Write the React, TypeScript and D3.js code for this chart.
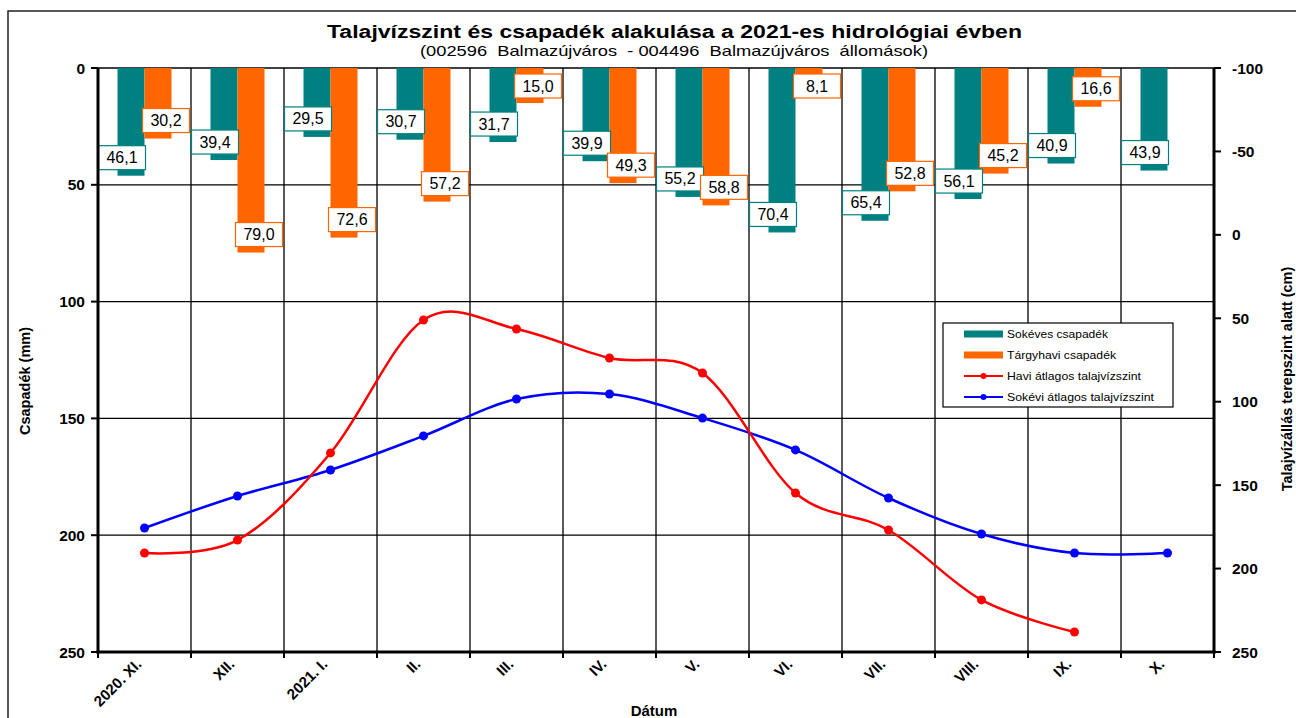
import React from "react";
import * as d3 from "d3";

const categories = ["2020. XI.", "XII.", "2021. I.", "II.", "III.", "IV.", "V.", "VI.", "VII.", "VIII.", "IX.", "X."];
const sokevesCsapadek = [46.1, 39.4, 29.5, 30.7, 31.7, 39.9, 55.2, 70.4, 65.4, 56.1, 40.9, 43.9];
const targyhaviCsapadek: (number | null)[] = [30.2, 79.0, 72.6, 57.2, 15.0, 49.3, 58.8, 8.1, 52.8, 45.2, 16.6, null];
const haviTalajviz: (number | null)[] = [190.7, 182.9, 130.7, 51, 56.4, 73.8, 82.8, 154.7, 176.9, 218.8, 238, null];
const sokeviTalajviz = [175.7, 156.5, 140.9, 120.5, 98.4, 95.4, 109.8, 128.9, 157.7, 179.3, 190.7, 190.7];
const leftTicks = [0, 50, 100, 150, 200, 250];
const rightTicks = [-100, -50, 0, 50, 100, 150, 200, 250];
const legendNames = ["Sokéves csapadék", "Tárgyhavi csapadék", "Havi átlagos talajvízszint", "Sokévi átlagos talajvízszint"];

const TEAL = "#008080";
const ORANGE = "#FF6600";
const RED = "#FF0000";
const BLUE = "#0000FF";
const FONT = "'Liberation Sans', Arial, sans-serif";

const fmt = (v: number) => v.toFixed(1).replace(".", ",");

export default function App() {
  const W = 1296, H = 718;
  const left = 98, right = 1214, top = 68, bottom = 652;
  const x = d3.scaleBand<string>().domain(categories).range([left, right]);
  const yL = d3.scaleLinear().domain([0, 250]).range([top, bottom]);
  const yR = d3.scaleLinear().domain([-100, 250]).range([top, bottom]);
  const cx = (i: number) => (x(categories[i]) as number) + x.bandwidth() / 2;
  const barW = 27;

  const lineGen = d3
    .line<[number, number]>()
    .x((d) => d[0])
    .y((d) => d[1])
    .curve(d3.curveCardinal.tension(0));

  const redPts: [number, number][] = haviTalajviz
    .map((v, i) => (v == null ? null : ([cx(i), yR(v)] as [number, number])))
    .filter((d): d is [number, number] => d != null);
  const bluePts: [number, number][] = sokeviTalajviz.map((v, i) => [cx(i), yR(v)]);

  const boundaries = d3.range(categories.length + 1).map((i) => left + i * x.bandwidth());

  const label = (v: number, bx: number, endY: number, color: string, key: string) => {
    const w = 47, h = 24;
    const cy = Math.max(endY - 18, top + 18);
    return (
      <g key={key}>
        <rect x={bx - w / 2} y={cy - h / 2} width={w} height={h} fill="#fff" stroke={color} strokeWidth={1.2} />
        <text x={bx} y={cy + 5.5} textAnchor="middle" fontSize={16} fontFamily={FONT} fill="#000">
          {fmt(v)}
        </text>
      </g>
    );
  };

  const legendColors = [TEAL, ORANGE, RED, BLUE];
  const legendTypes = ["bar", "bar", "line", "line"];
  const legendWidths = [101, 109, 134, 147];

  return (
    <svg width={W} height={H} style={{ position: "absolute", left: 0, top: 0 }} fontFamily={FONT}>
      <rect x={0} y={0} width={W} height={H} fill="#fff" />
      <rect x={8} y={11} width={W + 20} height={H + 20} fill="none" stroke="#222" strokeWidth={1.5} />

      <text x={327} y={38} fontSize={17.5} fontWeight="bold" fill="#000" textLength={695} lengthAdjust="spacingAndGlyphs">
        Talajvízszint és csapadék alakulása a 2021-es hidrológiai évben
      </text>
      <text x={420} y={56} fontSize={14.5} fill="#000" style={{ whiteSpace: "pre" }} textLength={508} lengthAdjust="spacingAndGlyphs">
        (002596  Balmazújváros  - 004496  Balmazújváros  állomások)
      </text>

      {/* grid */}
      {leftTicks.slice(1, -1).map((t) => (
        <line key={"h" + t} x1={left} x2={right} y1={yL(t)} y2={yL(t)} stroke="#000" strokeWidth={1.3} />
      ))}
      <line x1={left} x2={right} y1={top} y2={top} stroke="#000" strokeWidth={1.5} />
      {boundaries.slice(1, -1).map((b, i) => (
        <line key={"v" + i} x1={b} x2={b} y1={top} y2={bottom} stroke="#000" strokeWidth={1.3} />
      ))}

      {/* bars */}
      {sokevesCsapadek.map((v, i) => (
        <rect key={"t" + i} x={cx(i) - barW} y={yL(0)} width={barW} height={yL(v) - yL(0)} fill={TEAL} />
      ))}
      {targyhaviCsapadek.map((v, i) =>
        v == null ? null : (
          <rect key={"o" + i} x={cx(i)} y={yL(0)} width={barW} height={yL(v) - yL(0)} fill={ORANGE} />
        )
      )}

      {/* lines */}
      <path d={lineGen(bluePts) || ""} fill="none" stroke={BLUE} strokeWidth={2.5} />
      {bluePts.map((p, i) => (
        <circle key={"bp" + i} cx={p[0]} cy={p[1]} r={4.5} fill={BLUE} />
      ))}
      <path d={lineGen(redPts) || ""} fill="none" stroke={RED} strokeWidth={2.5} />
      {redPts.map((p, i) => (
        <circle key={"rp" + i} cx={p[0]} cy={p[1]} r={4.5} fill={RED} />
      ))}

      {/* data labels */}
      {sokevesCsapadek.map((v, i) => label(v, cx(i) - barW / 2 - 9, yL(v), TEAL, "lt" + i))}
      {targyhaviCsapadek.map((v, i) =>
        v == null ? null : label(v, cx(i) + barW / 2 + 8, yL(v), ORANGE, "lo" + i)
      )}

      {/* axes */}
      <line x1={left} x2={left} y1={top} y2={bottom + 1.5} stroke="#000" strokeWidth={3} />
      <line x1={right} x2={right} y1={top} y2={bottom + 1.5} stroke="#000" strokeWidth={3} />
      <line x1={left - 1.5} x2={right + 1.5} y1={bottom} y2={bottom} stroke="#000" strokeWidth={3} />
      {leftTicks.map((t) => (
        <g key={"lt" + t}>
          <line x1={left - 7} x2={left} y1={yL(t)} y2={yL(t)} stroke="#000" strokeWidth={2} />
          <text x={85} y={yL(t) + 5.5} textAnchor="end" fontSize={15.5} fontWeight="bold">
            {t}
          </text>
        </g>
      ))}
      {rightTicks.map((t) => (
        <g key={"rt" + t}>
          <line x1={right} x2={right + 7} y1={yR(t)} y2={yR(t)} stroke="#000" strokeWidth={2} />
          <text x={1232} y={yR(t) + 5.5} textAnchor="start" fontSize={15.5} fontWeight="bold">
            {t}
          </text>
        </g>
      ))}
      {boundaries.map((b, i) => (
        <line key={"xt" + i} x1={b} x2={b} y1={bottom} y2={bottom + 6} stroke="#000" strokeWidth={2} />
      ))}
      {categories.map((c, i) => (
        <text
          key={"xl" + i}
          transform={`translate(${cx(i) - 2},${665}) rotate(-45)`}
          textAnchor="end"
          fontSize={15}
          fontWeight="bold"
        >
          {c}
        </text>
      ))}

      <text x={654} y={716} textAnchor="middle" fontSize={15} fontWeight="bold">
        Dátum
      </text>
      <text transform="translate(30,381) rotate(-90)" textAnchor="middle" fontSize={14.5} fontWeight="bold">
        Csapadék (mm)
      </text>
      <text transform="translate(1292,379) rotate(-90)" textAnchor="middle" fontSize={14.5} fontWeight="bold">
        Talajvízállás terepszint alatt (cm)
      </text>

      {/* legend */}
      <g>
        <rect x={943} y={323} width={230} height={84} fill="#fff" stroke="#000" strokeWidth={1.2} />
        {legendNames.map((name, i) => {
          const ly = 334 + i * 21;
          const color = legendColors[i];
          return (
            <g key={"lg" + i}>
              {legendTypes[i] === "bar" ? (
                <rect x={964} y={ly - 3.5} width={39} height={7} fill={color} />
              ) : (
                <g>
                  <line x1={964} x2={1003} y1={ly} y2={ly} stroke={color} strokeWidth={2} />
                  <circle cx={983.5} cy={ly} r={3} fill={color} />
                </g>
              )}
              <text x={1007} y={ly + 4} fontSize={11.5} fill="#000" textLength={legendWidths[i]} lengthAdjust="spacingAndGlyphs">
                {name}
              </text>
            </g>
          );
        })}
      </g>
    </svg>
  );
}
